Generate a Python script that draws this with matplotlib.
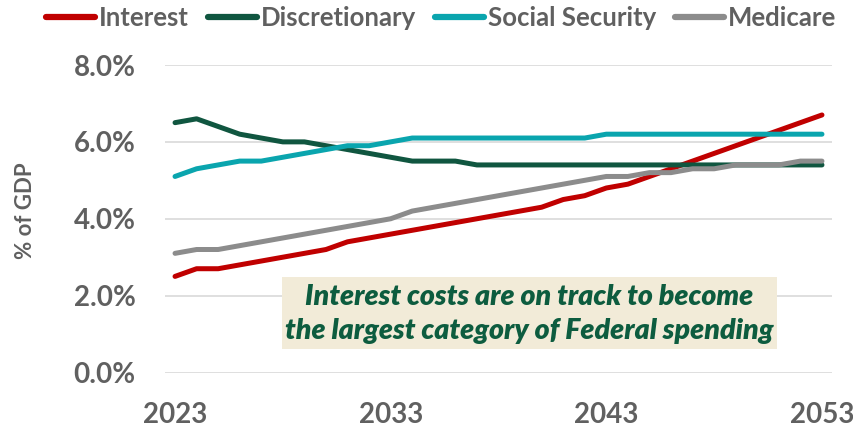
import matplotlib
matplotlib.use("Agg")
import matplotlib.pyplot as plt
from matplotlib.patches import Rectangle

plt.rcParams['font.family'] = ['Lato', 'DejaVu Sans']

years = list(range(2023, 2054))

interest = [2.5, 2.7, 2.7, 2.8, 2.9, 3.0, 3.1, 3.2, 3.4, 3.5,
            3.6, 3.7, 3.8, 3.9, 4.0, 4.1, 4.2, 4.3, 4.5, 4.6,
            4.8, 4.9, 5.1, 5.3, 5.5, 5.7, 5.9, 6.1, 6.3, 6.5, 6.7]
discretionary = [6.5, 6.6, 6.4, 6.2, 6.1, 6.0, 6.0, 5.9, 5.8, 5.7,
                 5.6, 5.5, 5.5, 5.5, 5.4, 5.4, 5.4, 5.4, 5.4, 5.4,
                 5.4, 5.4, 5.4, 5.4, 5.4, 5.4, 5.4, 5.4, 5.4, 5.4, 5.4]
social_security = [5.1, 5.3, 5.4, 5.5, 5.5, 5.6, 5.7, 5.8, 5.9, 5.9,
                   6.0, 6.1, 6.1, 6.1, 6.1, 6.1, 6.1, 6.1, 6.1, 6.1,
                   6.2, 6.2, 6.2, 6.2, 6.2, 6.2, 6.2, 6.2, 6.2, 6.2, 6.2]
medicare = [3.1, 3.2, 3.2, 3.3, 3.4, 3.5, 3.6, 3.7, 3.8, 3.9,
            4.0, 4.2, 4.3, 4.4, 4.5, 4.6, 4.7, 4.8, 4.9, 5.0,
            5.1, 5.1, 5.2, 5.2, 5.3, 5.3, 5.4, 5.4, 5.4, 5.5, 5.5]

series = [
    ("Interest", interest, "#C00000"),
    ("Discretionary", discretionary, "#105640"),
    ("Social Security", social_security, "#0AA5AE"),
    ("Medicare", medicare, "#8C8C8C"),
]

x_ticks = [2023, 2033, 2043, 2053]
y_ticks = [0, 2, 4, 6, 8]
y_tick_labels = ["0.0%", "2.0%", "4.0%", "6.0%", "8.0%"]
note = "Interest costs are on track to become\nthe largest category of Federal spending"

W, H = 854, 428
fig = plt.figure(figsize=(W / 100, H / 100), dpi=100)
ax = fig.add_axes([165 / W, 1 - 372.5 / H, (832 - 165) / W, (372.5 - 65) / H])

text_gray = "#606060"
for name, vals, col in series:
    ax.plot(years, vals, color=col, lw=3.6, label=name, solid_capstyle="round",
            solid_joinstyle="round", zorder=3, clip_on=False)

ax.set_xlim(2023 - 10 / 21.5, 2053 + 10 / 21.5)
ax.set_ylim(0, 8)
ax.set_xticks(x_ticks)
ax.set_xticklabels([str(t) for t in x_ticks])
ax.set_yticks(y_ticks)
ax.set_yticklabels(y_tick_labels)
ax.grid(axis="y", color="#D9D9D9", lw=1.2, zorder=0)
ax.set_axisbelow(True)
for s in ax.spines.values():
    s.set_visible(False)
ax.tick_params(axis="both", length=0, labelsize=20, labelcolor=text_gray)
ax.tick_params(axis="y", pad=21)
ax.tick_params(axis="x", pad=21)
for lab in ax.get_xticklabels() + ax.get_yticklabels():
    lab.set_fontweight("bold")

fig.text(26 / W, 1 - 211 / H, "% of GDP", rotation=90, ha="center", va="center",
         fontsize=16, fontweight="bold", color=text_gray)

# annotation panel
bx0, by0, bx1, by1 = 282, 277, 777, 349
fig.patches.append(Rectangle((bx0 / W, 1 - by1 / H), (bx1 - bx0) / W, (by1 - by0) / H,
                             transform=fig.transFigure, facecolor="#F2EBD8",
                             edgecolor="none", zorder=2))
fig.text((bx0 + bx1) / 2 / W, 1 - 314 / H, note, ha="center", va="center",
         fontsize=20.5, fontweight="heavy", fontstyle="italic", color="#0D5C3F",
         linespacing=1.35, zorder=5)

leg = fig.legend(loc="center", bbox_to_anchor=(441 / W, 1 - 18 / H), ncol=4,
                 frameon=False, fontsize=18.5, handlelength=1.9, handletextpad=0.15,
                 columnspacing=0.75, borderaxespad=0)
for t in leg.get_texts():
    t.set_color(text_gray)
    t.set_fontweight("bold")
for h in leg.get_lines():
    h.set_linewidth(4.5)

fig.savefig("out.png", dpi=100)
